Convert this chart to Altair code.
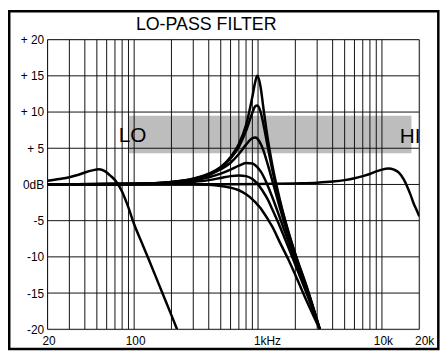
import altair as alt
import pandas as pd

FONT = "Liberation Sans"

# ---- lo-pass family around 1 kHz (different resonance settings) ----
fam_freqs = [20, 100, 200, 300, 400, 500, 600, 700, 800, 900, 950, 985,
             1050, 1100, 1200, 1300, 1500, 1750, 2000, 2500, 3150]
res_max  = [0, 0.1, 0.35, 0.8, 1.5, 2.4, 3.8, 5.6, 8.2, 12.1, 14.2, 15.0,
            13.4, 10.8, 6.2, 2.8, -2.1, -6.4, -9.6, -14.4, -20]
res_high = [0, 0.1, 0.35, 0.8, 1.4, 2.3, 3.6, 5.2, 7.4, 9.9, 10.8, 10.9,
            10.0, 8.5, 5.1, 2.1, -2.4, -6.5, -9.7, -14.5, -20]
res_mid  = [0, 0.1, 0.3, 0.7, 1.3, 2.1, 3.0, 4.2, 5.5, 6.4, 6.5, 6.35,
            5.6, 4.8, 2.7, 0.6, -3.2, -7.0, -10.0, -14.6, -20]
res_low  = [0, 0.05, 0.25, 0.55, 1.0, 1.5, 2.05, 2.6, 2.95, 2.9, 2.65, 2.4,
            1.8, 1.2, -0.2, -1.7, -4.6, -7.8, -10.6, -15.0, -20]
res_min  = [0, 0.05, 0.15, 0.35, 0.6, 0.9, 1.15, 1.25, 1.15, 0.75, 0.4, 0.15,
            -0.5, -1.0, -2.1, -3.4, -5.8, -8.6, -11.1, -15.3, -20]
res_none = [0, 0, 0, 0, -0.05, -0.2, -0.45, -0.8, -1.35, -2.05, -2.45, -2.75,
            -3.3, -3.8, -4.8, -5.8, -8.0, -10.3, -12.5, -16.3, -20]

# ---- lowest cutoff (LO) ----
lo_freqs = [20, 25, 30, 35, 40, 46, 52, 58, 65, 72, 80, 90, 100, 115, 130, 150, 170, 195, 222]
lo_db    = [0.5, 0.75, 1.0, 1.3, 1.65, 1.95, 2.1, 1.85, 1.15, 0.35, -1.0, -3.2,
            -5.5, -8.0, -10.2, -12.8, -15.1, -17.6, -20]

# ---- highest cutoff (HI) ----
hi_freqs = [20, 500, 1000, 2000, 3000, 4000, 5000, 6000, 7000, 8000, 9000, 10000,
            11300, 12500, 13700, 15000, 16000, 17000, 18000, 19000, 20000]
hi_db    = [0, 0.02, 0.05, 0.15, 0.25, 0.4, 0.6, 0.85, 1.15, 1.45, 1.8, 2.05,
            2.2, 2.05, 1.65, 0.7, -0.3, -1.4, -2.6, -3.5, -4.4]

# ---- sweep range band ----
band_f = [90, 17300]
band_db = [4.3, 9.5]
band_labels = ["LO", "HI"]
band_label_f = [75, 13900]
band_label_db = [5.8, 5.66]

title_text = "LO-PASS FILTER"

# ---- grid / ticks ----
grid_freqs = [20, 30, 40, 50, 60, 70, 80, 90, 100, 200, 300, 400, 500, 600, 700, 800, 900,
              1000, 2000, 3000, 4000, 5000, 6000, 7000, 8000, 9000, 10000, 20000]
grid_db = [-20, -15, -10, -5, 0, 5, 10, 15, 20]
x_tick_values = [20, 100, 1000, 10000, 20000]
x_tick_labels = ["20", "100", "1kHz", "10k", "20k"]
y_tick_values = grid_db
y_tick_labels = ["-20", "-15", "-10", "-5", "0dB", "+ 5", "+ 10", "+ 15", "+ 20"]

rows = []
for name, vals in [("q6", res_max), ("q5", res_high), ("q4", res_mid),
                   ("q3", res_low), ("q2", res_min), ("q1", res_none)]:
    rows += [{"series": name, "freq": f, "db": d} for f, d in zip(fam_freqs, vals)]
rows += [{"series": "lo", "freq": f, "db": d} for f, d in zip(lo_freqs, lo_db)]
rows += [{"series": "hi", "freq": f, "db": d} for f, d in zip(hi_freqs, hi_db)]
curves_df = pd.DataFrame(rows)


def expr_map(values, labels):
    e = "''"
    for v, l in reversed(list(zip(values, labels))):
        e = f"datum.value == {v} ? '{l}' : ({e})"
    return e


xs = alt.Scale(type="log", domain=[20, 20000], nice=False)
ys = alt.Scale(domain=[-20, 20], nice=False, zero=False)

x_axis = alt.Axis(values=x_tick_values, labelExpr=expr_map(x_tick_values, x_tick_labels),
                  grid=False, domain=False, ticks=False, labelPadding=6, labelFontSize=12,
                  labelFont=FONT, labelColor="black", title=None, labelFlush=False,
                  labelOverlap=False,
                  labelOffset={"condition": [{"test": "datum.value == 1000", "value": 9},
                                             {"test": "datum.value == 20000", "value": 5}],
                               "value": 1})
y_axis = alt.Axis(values=y_tick_values, labelExpr=expr_map(y_tick_values, y_tick_labels),
                  grid=False, domain=False, ticks=False, labelPadding=4, labelFontSize=12,
                  labelFont=FONT, labelColor="black", title=None, labelOverlap=False)


def X(field):
    return alt.X(field, type="quantitative", scale=xs, axis=x_axis)


def Y(field):
    return alt.Y(field, type="quantitative", scale=ys, axis=y_axis)


band_df = pd.DataFrame({"f1": [band_f[0]], "f2": [band_f[1]],
                        "d1": [band_db[0]], "d2": [band_db[1]]})
band = alt.Chart(band_df).mark_rect(color="#bdbdbd").encode(
    x=X("f1"), x2="f2", y=Y("d1"), y2="d2")

vgrid = alt.Chart(pd.DataFrame({"f": grid_freqs})).mark_rule(
    color="#111111", strokeWidth=1).encode(x=X("f"))
hgrid = alt.Chart(pd.DataFrame({"d": grid_db})).mark_rule(
    color="#111111", strokeWidth=1).encode(y=Y("d"))

lines = alt.Chart(curves_df).mark_line(
    color="black", strokeWidth=2.5, interpolate="monotone", clip=True).encode(
    x=X("freq"), y=Y("db"), detail="series:N", order=alt.Order("freq:Q"))

labels_df = pd.DataFrame({"t": band_labels, "f": band_label_f, "d": band_label_db})
band_text = alt.Chart(labels_df).mark_text(
    font=FONT, fontSize=21, align="left", baseline="alphabetic", color="black",
    clip=True).encode(x=X("f"), y=Y("d"), text="t:N")

title = alt.Chart(alt.Data(values=[{"t": title_text}])).mark_text(
    font=FONT, fontSize=18, align="center", baseline="alphabetic", color="black",
    clip=False).encode(x=alt.value(160.5), y=alt.value(-10), text="t:N")

frame = alt.Chart(alt.Data(values=[{}])).mark_rect(
    filled=False, stroke="black", strokeWidth=2.5, clip=False).encode(
    x=alt.value(-38.75), x2=alt.value(395.3), y=alt.value(-28.75), y2=alt.value(313))

chart = alt.layer(band, vgrid, hgrid, lines, band_text, title, frame).properties(
    width=376, height=293,
    autosize=alt.AutoSizeParams(type="none"),
    padding={"left": 40, "top": 30, "right": 21, "bottom": 23},
).configure_view(strokeWidth=0).configure(background="white")

chart.save("out.html", embed_options={"renderer": "svg", "actions": False})
